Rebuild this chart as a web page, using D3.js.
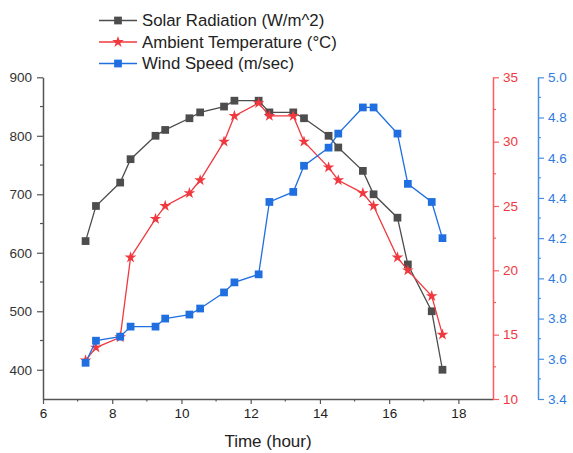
<!DOCTYPE html>
<html><head><meta charset="utf-8">
<script src="https://cdn.jsdelivr.net/npm/d3@7"></script>
<style>body{margin:0;background:#fff}svg{display:block;font-family:"Liberation Sans",Arial,sans-serif}</style>
</head><body><svg id="c" width="573" height="453"></svg>
<script>
const time = [7.23,7.53,8.23,8.53,9.25,9.53,10.23,10.54,11.23,11.53,12.23,12.54,13.23,13.54,14.25,14.53,15.24,15.55,16.24,16.54,17.23,17.54];
const solar = [620,680,720,760,800,810,830,840,850,860,860,840,840,830,800,780,740,700,660,580,500,400];
const temp = [13,14,14.8,21,24,25,26,27,30,32,33,32,32,30,28,27,26,25,21,20,18,15];
const wind = [3.58,3.69,3.71,3.76,3.76,3.80,3.82,3.85,3.93,3.98,4.02,4.38,4.43,4.56,4.65,4.72,4.85,4.85,4.72,4.47,4.38,4.20];
const xTicks = [6,8,10,12,14,16,18];
const solarTicks = [400,500,600,700,800,900];
const tempTicks = [10,15,20,25,30,35];
const windTicks = [3.4,3.6,3.8,4.0,4.2,4.4,4.6,4.8,5.0];
const legendLabels = ["Solar Radiation (W/m^2)","Ambient Temperature (°C)","Wind Speed (m/sec)"];

const C = {solar:"#4d4d4d", temp:"#f0383e", wind:"#1f6fe0"};
const svg = d3.select("#c");
const x = d3.scaleLinear().domain([6,19]).range([43,493]);
const yS = d3.scaleLinear().domain([350,900]).range([399,77.3]);
const yT = d3.scaleLinear().domain([10,35]).range([399,77.3]);
const yW = d3.scaleLinear().domain([3.4,5.0]).range([399,77.3]);

function styleAxis(g, color, textColor){
  g.select(".domain").attr("stroke", color).attr("stroke-width",1.5);
  g.selectAll(".tick line").attr("stroke", color).attr("stroke-width",1.2);
  g.selectAll(".tick text").attr("fill", textColor).attr("font-size",13.5);
}
function minor(g, scale, vals, orient, color, len){
  vals.forEach(v=>{
    const p = scale(v);
    let l;
    if(orient==="bottom") l = g.append("line").attr("x1",p).attr("x2",p).attr("y1",0).attr("y2",len);
    else if(orient==="left") l = g.append("line").attr("y1",p).attr("y2",p).attr("x1",0).attr("x2",-len);
    else l = g.append("line").attr("y1",p).attr("y2",p).attr("x1",0).attr("x2",len);
    l.attr("stroke",color).attr("stroke-width",1.2);
  });
}

// bottom axis
const gx = svg.append("g").attr("transform","translate(0,399)")
  .call(d3.axisBottom(x).tickValues(xTicks).tickSize(5).tickSizeOuter(0).tickPadding(4).tickFormat(d3.format("d")));
styleAxis(gx,"#555","#222");
minor(gx,x,[7,9,11,13,15,17],"bottom","#555",2.5);

// left axis
const gl = svg.append("g").attr("transform","translate(43,0)")
  .call(d3.axisLeft(yS).tickValues(solarTicks).tickSize(6).tickSizeOuter(0).tickPadding(5));
styleAxis(gl,"#555","#333");
minor(gl,yS,[450,550,650,750,850],"left","#555",3);

// red axis
const gr = svg.append("g").attr("transform","translate(493,0)")
  .call(d3.axisRight(yT).tickValues(tempTicks).tickSize(6).tickSizeOuter(0).tickPadding(4));
styleAxis(gr,"#ff5a5f","#f0383e");
minor(gr,yT,[12.5,17.5,22.5,27.5,32.5],"right","#ff5a5f",3);

// blue axis
const gb = svg.append("g").attr("transform","translate(538,0)")
  .call(d3.axisRight(yW).tickValues(windTicks).tickSize(6).tickSizeOuter(0).tickPadding(4).tickFormat(d3.format(".1f")));
styleAxis(gb,"#4a90e2","#2f7be0");
minor(gb,yW,[3.5,3.7,3.9,4.1,4.3,4.5,4.7,4.9],"right","#4a90e2",3);

// axis title
svg.append("text").attr("x",268).attr("y",447).attr("text-anchor","middle")
  .attr("font-size",17).attr("fill","#222").text("Time (hour)");

const sq = d3.symbol().type(d3.symbolSquare).size(60);
const st = d3.symbol().type(d3.symbolStar).size(42);

function series(vals, y, color, sym){
  const pts = time.map((t,i)=>[x(t), y(vals[i])]);
  svg.append("path").attr("d", d3.line()(pts)).attr("fill","none").attr("stroke",color).attr("stroke-width",1.3);
  svg.append("g").selectAll("path").data(pts).join("path")
    .attr("transform",d=>`translate(${d[0]},${d[1]})`).attr("d",sym).attr("fill",color);
}
series(solar,yS,C.solar,sq);
series(temp,yT,C.temp,st);
series(wind,yW,C.wind,sq);

// legend
const legend = [[C.solar,sq],[C.temp,st],[C.wind,sq]];
legend.forEach((l,i)=>{
  const cy = 20.5 + i*21.5;
  const g = svg.append("g");
  g.append("line").attr("x1",99).attr("x2",137).attr("y1",cy).attr("y2",cy).attr("stroke",l[0]).attr("stroke-width",1.3);
  g.append("path").attr("transform",`translate(118,${cy})`).attr("d",l[1]).attr("fill",l[0]);
  g.append("text").attr("x",142).attr("y",cy).attr("dy","0.35em").attr("font-size",16.8).attr("fill","#222").text(legendLabels[i]);
});
</script></body></html>
